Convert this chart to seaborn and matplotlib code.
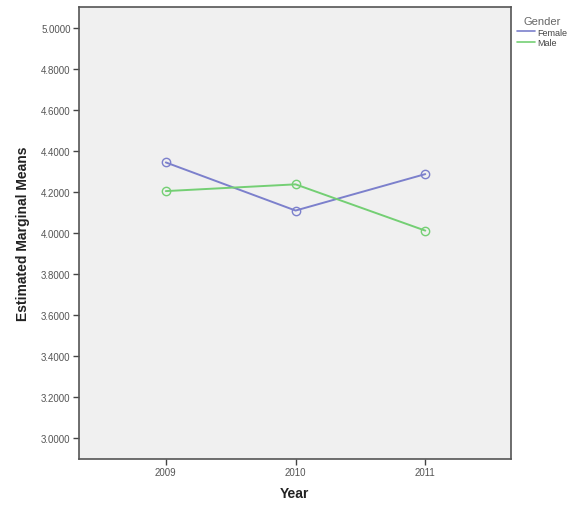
import matplotlib
matplotlib.use("Agg")
import matplotlib.pyplot as plt
from matplotlib.lines import Line2D
import pandas as pd
import seaborn as sns

YEARS = [2009, 2010, 2011]
FEMALE = [4.345, 4.110, 4.288]
MALE = [4.205, 4.238, 4.012]
GROUPS = ["Female", "Male"]
COLORS = {"Female": "#7c80cc", "Male": "#74cf74"}
YTICKS = [3.0, 3.2, 3.4, 3.6, 3.8, 4.0, 4.2, 4.4, 4.6, 4.8, 5.0]


def main() -> None:
    sns.set_theme(style="white")
    plt.rcParams["font.family"] = ["Liberation Sans", "DejaVu Sans"]

    df = pd.DataFrame({
        "Year": YEARS * 2,
        "Mean": FEMALE + MALE,
        "Gender": [GROUPS[0]] * 3 + [GROUPS[1]] * 3,
    })

    fig = plt.figure(figsize=(5.76, 5.10), dpi=100)
    ax = fig.add_axes([0.137, 0.098, 0.750, 0.886])
    ax.set_facecolor("#f0f0f0")

    sns.lineplot(data=df, x="Year", y="Mean", hue="Gender", palette=COLORS,
                 marker="o", markersize=6, markerfacecolor="none",
                 markeredgewidth=1.0, linewidth=1.4, legend=False, ax=ax)
    # seaborn paints marker edges white; give them the line colour instead
    for line in ax.lines:
        line.set_markeredgecolor(line.get_color())

    ax.set_xlim(2008.33, 2011.66)
    ax.set_ylim(2.897, 5.103)
    ax.set_xticks(YEARS)
    ax.set_xticklabels([str(y) for y in YEARS])
    ax.set_yticks(YTICKS)
    ax.set_yticklabels([f"{v:.4f}" for v in YTICKS])
    ax.tick_params(axis="both", labelsize=7, labelcolor="#555555",
                   length=4, width=1, color="#444444", direction="out",
                   left=True, bottom=True, pad=2)

    for s in ax.spines.values():
        s.set_color("#555555")
        s.set_linewidth(1.2)

    ax.set_xlabel("Year", fontsize=10, fontweight="bold", color="#222222", labelpad=6)
    ax.set_ylabel("Estimated Marginal Means", fontsize=10, fontweight="bold",
                  color="#222222", labelpad=8)

    handles = [Line2D([0], [0], color=COLORS[g], lw=1.2) for g in GROUPS]
    leg = ax.legend(handles, GROUPS, title="Gender", loc="upper left",
                    bbox_to_anchor=(1.0, 0.995), frameon=False, fontsize=6.5,
                    title_fontsize=8, handlelength=2.0, handletextpad=0.2,
                    labelspacing=0.2, borderaxespad=0.3)
    leg.get_title().set_color("#666666")
    for t in leg.get_texts():
        t.set_color("#444444")

    fig.savefig("out.png", dpi=100)


if __name__ == "__main__":
    main()
